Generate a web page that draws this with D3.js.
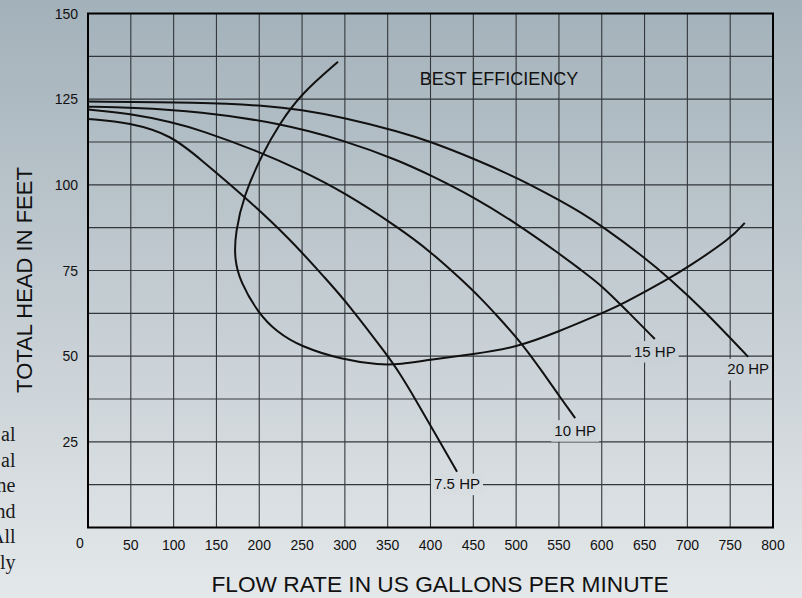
<!DOCTYPE html>
<html>
<head>
<meta charset="utf-8">
<script src="https://cdn.jsdelivr.net/npm/d3@7"></script>
<style>
  html, body { margin: 0; padding: 0; overflow: hidden; }
  svg { display: block; }
  .tick-label { font-family: "Liberation Sans", Arial, sans-serif; font-size: 14px; fill: #111; }
  .curve-label { font-family: "Liberation Sans", Arial, sans-serif; font-size: 15px; fill: #111; }
  .axis-title { font-family: "Liberation Sans", Arial, sans-serif; font-size: 22px; fill: #111; }
  .side-text { font-family: "Liberation Serif", "DejaVu Serif", serif; font-size: 20px; fill: #1a1a1a; }
</style>
</head>
<body>
<div class="chart"></div>
<script>
// pump curves: [flow gpm, head ft]
var hp75 = [[0,119.2],[49,118.2],[98,114.4],[131,107.5],[181,97],[236,84.2],[279,72.2],[302,65.8],
            [351,49.8],[364,45],[382,37.6],[403,28.4],[431,16.3]];
var hp10 = [[0,122],[49,120.8],[98,118.3],[131,116],[201,109.6],[248,104.3],[298,98],[364,87.3],
            [400,80.5],[436,72.4],[460,66.6],[477,62],[506,54],[532,45],[550,38.5],[569,31.9]];
var hp15 = [[0,122.8],[50,122.6],[131,121.4],[224,118],[298,113.1],[364,107],[400,102.8],[450,96.5],
            [500,88.8],[550,80],[575,75.3],[600,70.6],[628,63.6],[662,55]];
var hp20 = [[0,124.3],[131,124.1],[209,123.1],[248,121.9],[298,119.7],[364,115.5],[400,112.6],
            [450,107.7],[500,102.2],[550,95.6],[575,92],[600,88],[650,78.8],[679,72.7],[719,63.5],[771,49.8]];
var bestEff = [[292,135.9],[249.5,126.7],[224,118],[203,108.7],[182,97],[172,86],
               [171,78.5],[177.5,71.8],[199,62.5],[220,57.2],[248,52.8],[298,48.9],[341,47.4],[364,47.6],
               [400,49],[450,50.6],[500,52.5],[550,57.2],[598,62.3],[623,65],[679,72.7],[700,75.9],
               [751,84.4],[767,88.9]];

var curveNames = ["7.5 HP", "10 HP", "15 HP", "20 HP"];
var xTicks = [0, 50, 100, 150, 200, 250, 300, 350, 400, 450, 500, 550, 600, 650, 700, 750, 800];
var yTicks = [0, 25, 50, 75, 100, 125, 150];
var yGrid = [12.5, 25, 37.5, 50, 62.5, 75, 87.5, 100, 112.5, 125, 137.5];
var sideWords = ["al", "al", "ne", "nd", "All", "ly"];

var W = 802, H = 598;
var margin = { top: 13.5, right: 29, bottom: 70.5, left: 88 },
    width = W - margin.left - margin.right,
    height = H - margin.top - margin.bottom;

var x = d3.scaleLinear().domain([0, 800]).range([0, width]);
var y = d3.scaleLinear().domain([0, 150]).range([height, 0]);

var root = d3.select(".chart").append("svg")
    .attr("width", W)
    .attr("height", H);

var grad = root.append("defs").append("linearGradient")
    .attr("id", "bg")
    .attr("gradientUnits", "userSpaceOnUse")
    .attr("x1", 0).attr("y1", 0).attr("x2", 0).attr("y2", H);
grad.append("stop").attr("offset", "0%").attr("stop-color", "#a3b1ba");
grad.append("stop").attr("offset", "100%").attr("stop-color", "#e4e8ea");

root.append("rect")
    .attr("width", W).attr("height", H)
    .attr("fill", "url(#bg)");

// cut off paragraph at the left edge
root.selectAll(".side-text")
    .data(sideWords)
    .enter().append("text")
    .attr("class", "side-text")
    .attr("x", 15.5)
    .attr("y", function(d, i) { return 441 + i * 25.5; })
    .attr("text-anchor", "end")
    .text(function(d) { return d; });

var svg = root.append("g")
    .attr("transform", "translate(" + margin.left + "," + margin.top + ")");

// grid
svg.selectAll(".vgrid")
    .data(xTicks.slice(1, -1))
    .enter().append("line")
    .attr("x1", function(d) { return x(d); })
    .attr("x2", function(d) { return x(d); })
    .attr("y1", 0).attr("y2", height)
    .attr("stroke", "#32373b").attr("stroke-width", 1.1);

svg.selectAll(".hgrid")
    .data(yGrid)
    .enter().append("line")
    .attr("y1", function(d) { return y(d); })
    .attr("y2", function(d) { return y(d); })
    .attr("x1", 0).attr("x2", width)
    .attr("stroke", "#32373b").attr("stroke-width", 1.1);

svg.append("rect")
    .attr("width", width).attr("height", height)
    .attr("fill", "none")
    .attr("stroke", "#000")
    .attr("stroke-width", 2);

// tick labels
svg.selectAll(".ylab")
    .data(yTicks.slice(1))
    .enter().append("text")
    .attr("class", "tick-label")
    .attr("x", -10)
    .attr("y", function(d) { return y(d); })
    .attr("dy", "0.36em")
    .attr("text-anchor", "end")
    .text(function(d) { return d; });

svg.selectAll(".xlab")
    .data(xTicks)
    .enter().append("text")
    .attr("class", "tick-label")
    .attr("x", function(d) { return d === 0 ? x(d) - 8 : x(d); })
    .attr("y", function(d) { return d === 0 ? height + 20 : height + 22; })
    .attr("text-anchor", "middle")
    .text(function(d) { return d; });

root.append("text")
    .attr("class", "axis-title")
    .attr("transform", "translate(32,280) rotate(-90)")
    .attr("text-anchor", "middle")
    .text("TOTAL HEAD IN FEET");

root.append("text")
    .attr("class", "axis-title")
    .attr("x", 440)
    .attr("y", 592)
    .attr("text-anchor", "middle")
    .style("font-size", "22.7px")
    .text("FLOW RATE IN US GALLONS PER MINUTE");

var line = d3.line()
    .curve(d3.curveBasis)
    .x(function(d) { return x(d[0]); })
    .y(function(d) { return y(d[1]); });

var series = [hp75, hp10, hp15, hp20];

svg.selectAll(".pump")
    .data(series)
    .enter().append("path")
    .attr("class", "pump")
    .attr("fill", "none")
    .attr("stroke", "#111")
    .attr("stroke-width", 2)
    .attr("d", line);

svg.append("path")
    .datum(bestEff)
    .attr("fill", "none")
    .attr("stroke", "#111")
    .attr("stroke-width", 2)
    .attr("d", line);

svg.append("text")
    .attr("class", "curve-label")
    .attr("x", x(480))
    .attr("y", y(129))
    .attr("text-anchor", "middle")
    .style("font-size", "18px")
    .text("BEST EFFICIENCY");

// HP labels under the curve ends, knocking out the grid behind them
series.forEach(function(s, i) {
  var end = s[s.length - 1];
  var g = svg.append("g");
  var t = g.append("text")
      .attr("class", "curve-label")
      .attr("x", x(end[0]))
      .attr("y", y(end[1]) + 17.5)
      .attr("text-anchor", "middle")
      .text(curveNames[i]);
  var bb = t.node().getBBox();
  g.insert("rect", "text")
      .attr("x", bb.x - 3)
      .attr("y", y(end[1]) + 2)
      .attr("width", bb.width + 6)
      .attr("height", bb.y + bb.height - y(end[1]) + 1)
      .attr("fill", "url(#bg)");
});
</script>
</body>
</html>
